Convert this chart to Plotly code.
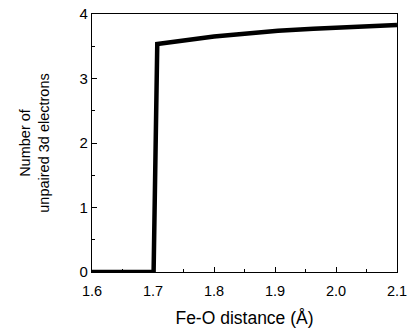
import plotly.graph_objects as go

# Data
fe_o_distance = [1.60, 1.700, 1.701, 1.707, 1.735, 1.766, 1.800, 1.837, 1.870, 1.905, 1.963, 2.034, 2.100]
unpaired_3d = [0.0, 0.0, 0.0, 3.535, 3.575, 3.61, 3.65, 3.685, 3.715, 3.74, 3.77, 3.80, 3.83]

x_tick_vals = [1.6, 1.7, 1.8, 1.9, 2.0, 2.1]
x_tick_text = ["1.6", "1.7", "1.8", "1.9", "2.0", "2.1"]
y_tick_vals = [0, 1, 2, 3, 4]

font_family = "Liberation Sans, Arial, sans-serif"

fig = go.Figure()
fig.add_trace(go.Scatter(
    x=fe_o_distance, y=unpaired_3d, mode="lines",
    line=dict(color="black", width=4.5, shape="linear"),
    showlegend=False, hoverinfo="skip",
))

fig.update_layout(
    width=407, height=328,
    margin=dict(l=92, r=10, t=14, b=56),
    paper_bgcolor="white", plot_bgcolor="white",
    font=dict(family=font_family, size=15, color="black"),
    xaxis=dict(
        range=[1.6, 2.1], tickmode="array", tickvals=x_tick_vals, ticktext=x_tick_text,
        automargin=False, ticklabeloverflow="allow",
        ticks="inside", ticklen=5, tickwidth=1, tickcolor="black",
        minor=dict(ticks="inside", ticklen=3, tickwidth=1, tickcolor="black",
                   tickmode="linear", tick0=1.6, dtick=0.05),
        showline=True, linecolor="black", linewidth=1.2, mirror=True,
        showgrid=False, zeroline=False,
        tickfont=dict(size=14.5), ticklabelstandoff=5,
        title=dict(text="Fe-O distance (Å)", font=dict(size=17.5), standoff=14),
    ),
    yaxis=dict(
        range=[0, 4], tickmode="array", tickvals=y_tick_vals,
        automargin=False, ticklabeloverflow="allow",
        ticks="inside", ticklen=5, tickwidth=1, tickcolor="black",
        minor=dict(ticks="inside", ticklen=3, tickwidth=1, tickcolor="black",
                   tickmode="linear", tick0=0, dtick=0.5),
        showline=True, linecolor="black", linewidth=1.2, mirror=True,
        showgrid=False, zeroline=False,
        tickfont=dict(size=15),
        title=dict(text="Number of<br>unpaired 3d electrons", font=dict(size=14.5), standoff=26),
    ),
)

fig.write_html("out.html")
